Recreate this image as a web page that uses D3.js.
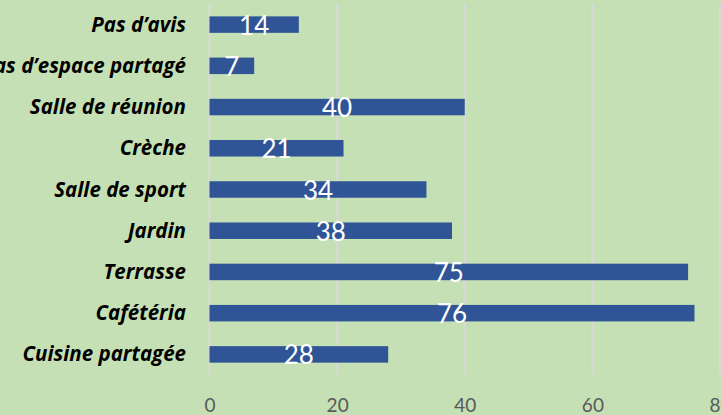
<!DOCTYPE html>
<html><head><meta charset="utf-8">
<script src="https://cdn.jsdelivr.net/npm/d3@7"></script>
<style>html,body{margin:0;padding:0;background:#C5E0B4;overflow:hidden}</style>
</head><body>
<svg id="c" width="721" height="415"></svg>
<script>
const categories = ["Pas d’avis","Pas d’espace partagé","Salle de réunion","Crèche","Salle de sport","Jardin","Terrasse","Cafétéria","Cuisine partagée"];
const values = [14,7,40,21,34,38,75,76,28];
const ticks = [0,20,40,60,80];

const svg = d3.select("#c");
svg.append("rect").attr("width",721).attr("height",415).attr("fill","#C5E0B4");
const x = d3.scaleLinear().domain([0,80]).range([209.5,720]);
const y = d3.scaleBand().domain(categories).range([4,375]).paddingInner(0.6).paddingOuter(0.3);

// gridlines
svg.append("g").selectAll("line").data(ticks).join("line")
  .attr("x1",d=>x(d)).attr("x2",d=>x(d)).attr("y1",4).attr("y2",374)
  .attr("stroke","#D9D9D9").attr("stroke-width",2);

// bars
svg.append("g").selectAll("rect").data(values).join("rect")
  .attr("x",x(0)).attr("y",(d,i)=>y(categories[i]))
  .attr("width",d=>x(d)-x(0)).attr("height",y.bandwidth())
  .attr("fill","#2F5597");

// data labels
svg.append("g").selectAll("text").data(values).join("text")
  .attr("x",d=>(x(d)+x(0))/2).attr("y",(d,i)=>y(categories[i])+y.bandwidth()/2+10)
  .attr("text-anchor","middle").attr("fill","#fff")
  .attr("font-family","Lato").attr("font-size",26).text(d=>d);

// category labels
svg.append("g").selectAll("text").data(categories).join("text")
  .attr("x",186).attr("y",d=>y(d)+y.bandwidth()/2+7)
  .attr("text-anchor","end").attr("fill","#000")
  .attr("font-family","Open Sans").attr("font-weight","bold").attr("font-style","italic")
  .attr("font-size",20.5).text(d=>d);

// x axis tick labels
const ax = svg.append("g").attr("transform","translate(0,393)")
  .call(d3.axisBottom(x).tickValues(ticks).tickSize(0).tickPadding(0));
ax.select(".domain").remove();
ax.selectAll("text").attr("font-family","Lato").attr("font-size",19).attr("fill","#595959")
  .attr("dy","0").attr("y",19);
</script>
</body></html>
